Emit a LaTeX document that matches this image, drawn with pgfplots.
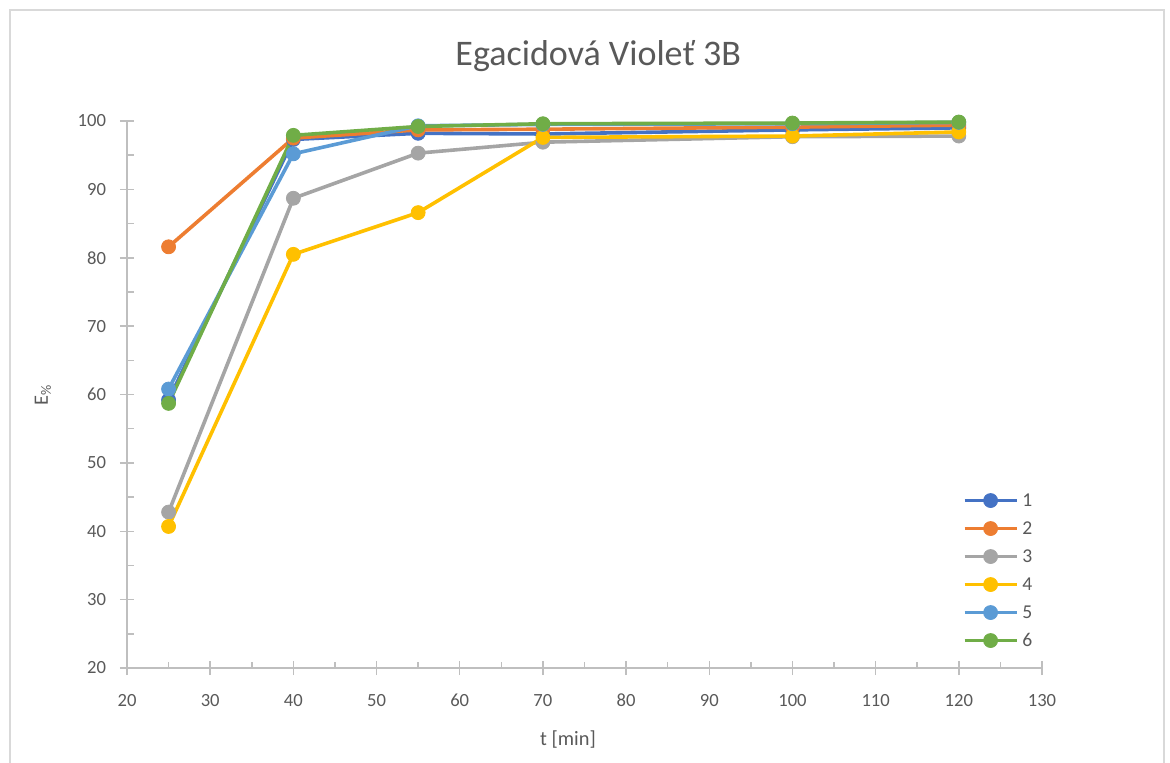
\documentclass[border=0pt]{standalone}
\usepackage{fontspec}
\setmainfont{Carlito}
\usepackage{pgfplots}
\pgfplotsset{compat=1.18}

\definecolor{txt}{RGB}{89,89,89}
\definecolor{axl}{RGB}{191,191,191}
\definecolor{frm}{RGB}{217,217,217}
\definecolor{s1}{HTML}{4472C4}
\definecolor{s2}{HTML}{ED7D31}
\definecolor{s3}{HTML}{A5A5A5}
\definecolor{s4}{HTML}{FFC000}
\definecolor{s5}{HTML}{5B9BD5}
\definecolor{s6}{HTML}{70AD47}

\pgfplotsset{
  ser/.style={color=#1, line width=1.8pt, mark=*, mark size=3.5pt,
              mark options={solid, fill=#1, draw=#1, line width=0.4pt}},
}

\begin{document}
\begin{tikzpicture}[x=1pt,y=1pt]
\path[use as bounding box] (-63.5,-47) rectangle (521.5,334);
% chart area frame
\draw[frm, line width=0.75pt] (-58.5,-60) -- (-58.5,329) -- (518.5,329) -- (518.5,-60);
\begin{axis}[
  at={(0,0)}, anchor=south west,
  scale only axis, width=457.5pt, height=273.5pt,
  xmin=20, xmax=130, ymin=20, ymax=100,
  xtick={20,30,...,130}, ytick={20,30,...,100},
  extra x ticks={25,35,...,125}, extra x tick labels={},
  extra y ticks={25,35,...,95}, extra y tick labels={},
  extra x tick style={tick align=inside, major tick length=2.8pt},
  extra y tick style={tick align=inside, major tick length=3.4pt},
  axis x line*=bottom, axis y line*=left,
  axis line style={axl, line width=0.75pt},
  tick style={axl, line width=0.75pt},
  tick align=center, major tick length=7pt,
  /pgf/number format/assume math mode=true,
  ticklabel style={font=\fontsize{9.3}{11}\selectfont, text=txt},
  xticklabel style={anchor=center, yshift=-12.8pt},
  yticklabel style={anchor=east, inner sep=0pt, xshift=-6.8pt},
  title={Egacidová Violeť 3B},
  title style={at={(axis description cs:0.515,1.097)}, anchor=center, yshift=0pt,
               font=\fontsize{18}{21}\selectfont, text=txt},
  xlabel={t [min]},
  xlabel style={at={(axis description cs:0.482,-0.1316)}, anchor=center,
                font=\fontsize{10.2}{12}\selectfont, text=txt},
  ylabel={E\textsubscript{\%}},
  ylabel style={at={(axis description cs:-0.0918,0.5)}, anchor=center,
                font=\fontsize{10.2}{12}\selectfont, text=txt},
  legend style={draw=none, fill=none, at={(0.913,0.327)}, anchor=north west,
                font=\fontsize{9.8}{11}\selectfont, text=txt,
                inner sep=0pt, row sep=3pt,
                nodes={inner sep=2pt, text height=6.5pt, text depth=0.5pt}},
  legend cell align=left,
  legend image code/.code={\draw[mark repeat=2, mark phase=2, #1]
      plot coordinates {(0pt,0pt) (13pt,0pt) (26pt,0pt)};},
  clip=false,
]
\addplot[ser=s1] coordinates {(25,59.2) (40,97.3) (55,98.2) (70,98.1) (100,98.7) (120,99.0)};
\addlegendentry{1}
\addplot[ser=s2] coordinates {(25,81.6) (40,97.5) (55,98.7) (70,98.8) (100,99.1) (120,99.4)};
\addlegendentry{2}
\addplot[ser=s3] coordinates {(25,42.8) (40,88.7) (55,95.3) (70,96.9) (100,97.7) (120,97.8)};
\addlegendentry{3}
\addplot[ser=s4] coordinates {(25,40.7) (40,80.5) (55,86.6) (70,97.6) (100,97.8) (120,98.4)};
\addlegendentry{4}
\addplot[ser=s5] coordinates {(25,60.8) (40,95.2) (55,99.3) (70,99.5) (100,99.6) (120,99.8)};
\addlegendentry{5}
\addplot[ser=s6] coordinates {(25,58.7) (40,97.9) (55,99.2) (70,99.6) (100,99.7) (120,99.85)};
\addlegendentry{6}
\end{axis}
\end{tikzpicture}
\end{document}
